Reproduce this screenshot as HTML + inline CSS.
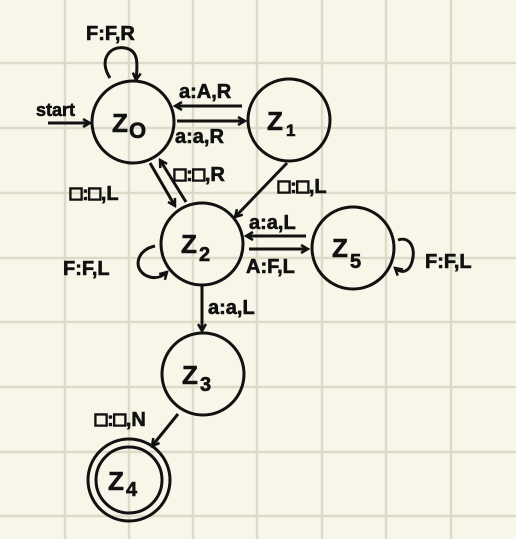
<!DOCTYPE html>
<html><head><meta charset="utf-8"><style>
html,body{margin:0;padding:0;background:#f8f6e9;}
svg{display:block;}
text{font-family:"Liberation Sans",sans-serif;font-weight:bold;fill:#111;}
.lb text{stroke:#111;stroke-width:0.6;}
.bx{stroke:#111;stroke-width:1.6;}
</style></head><body>
<svg width="516" height="539" viewBox="0 0 516 539">
<defs><marker id="ah" markerWidth="10" markerHeight="10" refX="8" refY="5" orient="auto" markerUnits="userSpaceOnUse"><path d="M1,1 L8,5 L1,9" fill="none" stroke="#111" stroke-width="2.5"/></marker></defs>
<rect width="516" height="539" fill="#f8f6e9"/>
<g stroke="#dcdbc9" stroke-width="2.5">
<line x1="65" y1="0" x2="65" y2="539"/><line x1="129" y1="0" x2="129" y2="539"/><line x1="193" y1="0" x2="193" y2="539"/><line x1="257" y1="0" x2="257" y2="539"/><line x1="322" y1="0" x2="322" y2="539"/><line x1="386" y1="0" x2="386" y2="539"/><line x1="451" y1="0" x2="451" y2="539"/>
<line x1="0" y1="63" x2="516" y2="63"/><line x1="0" y1="128" x2="516" y2="128"/><line x1="0" y1="193" x2="516" y2="193"/><line x1="0" y1="258" x2="516" y2="258"/><line x1="0" y1="322" x2="516" y2="322"/><line x1="0" y1="387" x2="516" y2="387"/><line x1="0" y1="452" x2="516" y2="452"/><line x1="0" y1="516" x2="516" y2="516"/>
</g>
<g fill="none" stroke="#111" stroke-width="3">
<circle cx="133" cy="122" r="41"/>
<circle cx="289" cy="120" r="41"/>
<circle cx="202" cy="244" r="41"/>
<circle cx="353" cy="248" r="41"/>
<circle cx="203" cy="374" r="41"/>
<circle cx="129" cy="480" r="41"/>
<circle cx="129" cy="480" r="33"/>
</g>
<g fill="none" stroke="#111" stroke-width="3" marker-end="url(#ah)">
<path d="M48,123 L90,123"/>
<path d="M110,78 C98,60 110,45 125,48 C138,50 138,62 136,80"/>
<path d="M242,106 L175,106"/>
<path d="M177,121 L245,121"/>
<path d="M150,163 L175,206"/>
<path d="M186,202 L160,160"/>
<path d="M287,163 L235,217"/>
<path d="M306,236 L246,236"/>
<path d="M249,249 L308,249"/>
<path d="M155,246 C135,250 132,272 150,277 C158,279 163,276 167,272"/>
<path d="M398,240 C410,236 416,248 412,262 C409,272 402,274 395,268"/>
<path d="M202,286 L202,331"/>
<path d="M178,414 L152,446"/>
</g>
<g font-size="20" class="lb">
<text x="112" y="132" font-size="26">Z</text><text x="129" y="138" font-size="22">O</text>
<text x="267" y="130" font-size="26">Z</text><text x="286" y="136" font-size="17">1</text>
<text x="181" y="253" font-size="26">Z</text><text x="199" y="261" font-size="20">2</text>
<text x="332" y="257" font-size="26">Z</text><text x="350" y="268" font-size="20">5</text>
<text x="182" y="384" font-size="26">Z</text><text x="200" y="391" font-size="20">3</text>
<text x="108" y="490" font-size="26">Z</text><text x="126" y="496" font-size="20">4</text>
<text x="36" y="116" font-size="18">start</text>
<text x="86" y="40">F:F,R</text>
<text x="179" y="98">a:A,R</text>
<text x="175" y="143">a:a,R</text>
<text x="174" y="181"><tspan class="bx">□</tspan>:<tspan class="bx">□</tspan>,R</text>
<text x="70" y="200"><tspan class="bx">□</tspan>:<tspan class="bx">□</tspan>,L</text>
<text x="278" y="193"><tspan class="bx">□</tspan>:<tspan class="bx">□</tspan>,L</text>
<text x="249" y="229">a:a,L</text>
<text x="246" y="273">A:F,L</text>
<text x="63" y="275">F:F,L</text>
<text x="425" y="268">F:F,L</text>
<text x="208" y="314">a:a,L</text>
<text x="95" y="426"><tspan class="bx">□</tspan>:<tspan class="bx">□</tspan>,N</text>
</g>
</svg>
</body></html>
